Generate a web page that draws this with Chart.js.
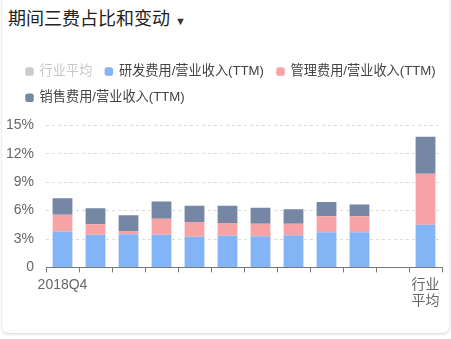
<!DOCTYPE html>
<html>
<head>
<meta charset="utf-8">
<script src="https://cdn.jsdelivr.net/npm/chart.js@4"></script>
<style>
  body { margin: 0; background: #fff; font-family: "Liberation Sans", "Noto Sans CJK SC", sans-serif; }
  .card { position: absolute; left: 2px; top: -6px; width: 447px; height: 339px; border-radius: 6px;
          box-shadow: 0 1px 3px rgba(0,0,0,0.18); background: #fff; }
  .title { position: absolute; left: 8px; top: 4px; font-size: 18px; color: #222; }
  .title span { font-size: 11px; color: #333; margin-left: 5px; }
  .wrap { position: absolute; left: 0; top: 52px; width: 451px; height: 266px; }
</style>
</head>
<body>
<div class="card"></div>
<div class="title">期间三费占比和变动<span>▼</span></div>
<div class="wrap"><canvas id="c"></canvas></div>
<script>
const categories = ["2018Q4", "", "", "", "", "", "", "", "", "", "", ["行业", "平均"]];
const rdRatio    = [3.8, 3.45, 3.5, 3.45, 3.25, 3.35, 3.3, 3.4, 3.7, 3.7, null, 4.5];
const mgmtRatio  = [1.75, 1.1, 0.3, 1.7, 1.55, 1.35, 1.3, 1.2, 1.7, 1.7, null, 5.4];
const salesRatio = [1.75, 1.7, 1.7, 1.8, 1.7, 1.8, 1.7, 1.55, 1.5, 1.25, null, 3.9];
const yTicks = [0, 3, 6, 9, 12, 15];

const fontFamily = '"Liberation Sans", "Noto Sans CJK SC", sans-serif';

// extra room under the legend, and push it a bit to the right
const legendTweak = {
  id: "legendTweak",
  beforeInit(chart) {
    const fit = chart.legend.fit;
    chart.legend.fit = function () {
      fit.bind(chart.legend)();
      this.height += 11;
    };
  },
  afterLayout(chart) {
    chart.legend.left += 7;
  }
};

new Chart(document.getElementById("c"), {
  type: "bar",
  data: {
    labels: categories,
    datasets: [
      { label: "行业平均", data: [], backgroundColor: "#cccccc" },
      { label: "研发费用/营业收入(TTM)", data: rdRatio, backgroundColor: "#83b4f6" },
      { label: "管理费用/营业收入(TTM)", data: mgmtRatio, backgroundColor: "#f7a2a5" },
      { label: "销售费用/营业收入(TTM)", data: salesRatio, backgroundColor: "#7686a5" }
    ]
  },
  plugins: [legendTweak],
  options: {
    responsive: true,
    maintainAspectRatio: false,
    animation: false,
    layout: { padding: { left: 6, right: 0, bottom: 4 } },
    datasets: { bar: { categoryPercentage: 1, barPercentage: 0.6 } },
    plugins: {
      tooltip: { enabled: false },
      legend: {
        align: "start",
        labels: {
          usePointStyle: true,
          pointStyle: "rectRounded",
          boxWidth: 7,
          boxHeight: 7,
          padding: 13,
          color: "#444",
          font: { family: fontFamily, size: 13.2 },
          generateLabels(chart) {
            const items = Chart.defaults.plugins.legend.labels.generateLabels(chart);
            items.forEach(it => {
              it.lineWidth = 0;
              if (it.datasetIndex === 0) it.fontColor = "#c8c8c8";
            });
            return items;
          }
        }
      }
    },
    scales: {
      x: {
        stacked: true,
        grid: { drawOnChartArea: false, drawTicks: true, tickLength: 5, color: "#777", offset: true },
        border: { color: "#777", width: 1 },
        ticks: {
          color: "#666",
          padding: 4,
          maxRotation: 0,
          autoSkip: false,
          font: { family: fontFamily, size: 14 }
        }
      },
      y: {
        stacked: true,
        min: 0,
        max: 15,
        afterBuildTicks(axis) { axis.ticks = yTicks.map(v => ({ value: v })); },
        afterFit(axis) { axis.width = 40; },
        grid: { color: "#dcdcdc", drawTicks: false },
        border: { display: false, dash: [3, 3] },
        ticks: {
          color: "#666",
          padding: 12,
          font: { family: fontFamily, size: 14 },
          callback: v => (v === 0 ? "0" : v + "%")
        }
      },
      // empty right-hand axis that only keeps a small gap at the right edge
      gap: {
        type: "linear",
        position: "right",
        display: true,
        afterFit(axis) { axis.width = 9; },
        grid: { display: false },
        border: { display: false },
        ticks: { display: false }
      }
    }
  }
});
</script>
</body>
</html>
